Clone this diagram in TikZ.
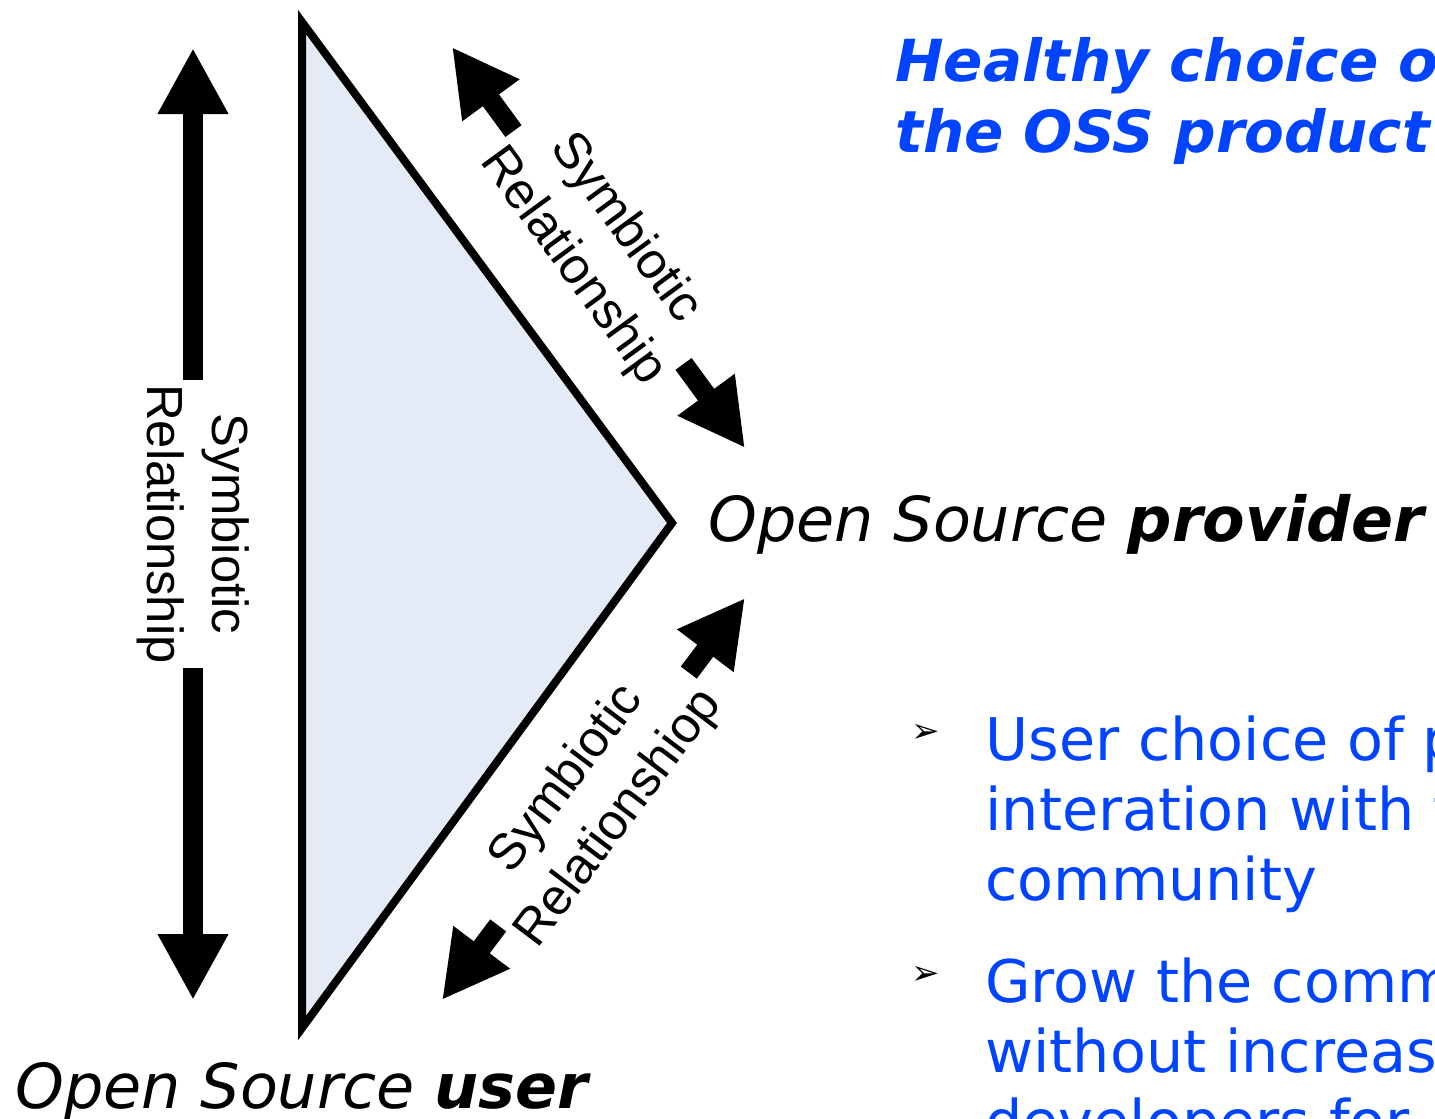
\documentclass[tikz,border=0pt]{standalone}
\usepackage{fontspec}
\setmainfont{DejaVu Sans}
\newfontfamily\labelfont{Liberation Sans}
\usepackage{tikz}
\usetikzlibrary{arrows.meta}
\definecolor{ossblue}{RGB}{0,68,255}
\definecolor{wedgefill}{RGB}{228,235,246}
\tikzstyle{rel arrow}=[line width=10pt,-{Triangle[length=33pt,width=33pt]}]
\tikzstyle{rel label}=[font=\labelfont\fontsize{25.4}{32.5}\selectfont,align=center,inner sep=2pt]
\tikzstyle{role label}=[anchor=base west,inner sep=0pt,font=\itshape\fontsize{31}{36}\selectfont]
\tikzstyle{blue text}=[anchor=base west,inner sep=0pt,align=left,text=ossblue]
\tikzstyle{bullet mark}=[inner sep=0pt,text=black,font=\fontsize{17}{17}\selectfont]
\newcommand{\relnode}[3][]{
  \node [rel label, #1] (#2) {#3}
}

\begin{document}
\begin{tikzpicture}[x=0.5pt,y=-0.5pt]
        \clip (0,0) rectangle (1435,1119);
        % the wedge
        \coordinate (apex) at (302,22);
        \coordinate (vertex) at (672,523);
        \coordinate (foot) at (302,1028);
        \draw[line width=4pt,line join=miter,fill=wedgefill] (apex) -- (vertex) -- (foot) -- cycle;

        % arrow tips
        \coordinate (ltop) at (193,48);
        \coordinate (lbot) at (193,1000);
        \coordinate (utop) at (452,47);
        \coordinate (ubot) at (745,448);
        \coordinate (dtop) at (745,598);
        \coordinate (dbot) at (442,1000);

        \relnode[rotate=-90,at={(193,524)}]{relleft}{Symbiotic\\Relationship};
        \relnode[rotate=-53.8,at={(598.5,247.5)}]{relup}{Symbiotic\\Relationship};
        \relnode[rotate=53,at={(593.5,799)}]{reldown}{Symbiotic\\Relationshiop};

      \draw[rel arrow] (relleft) -- (ltop);
            \draw[rel arrow] (relleft) -- (lbot);
                  \draw[rel arrow] (relup) -- (utop);
                        \draw[rel arrow] (relup) -- (ubot);
                              \draw[rel arrow] (reldown) -- (dtop);
                                    \draw[rel arrow] (reldown) -- (dbot);

        \node[role label] (provider) at (708,541) {Open Source \textbf{provider}};
        \node[role label] (user) at (15,1108) {Open Source \textbf{user}};

        % base anchor sits on the last line
\node[blue text,font=\bfseries\itshape\fontsize{29}{35.5}\selectfont] (title) at (895,152) {Healthy choice o\\the OSS product};

\node[bullet mark] (mark1) at (926,733) {➢};
\node[blue text,font=\fontsize{29.4}{35}\selectfont] (point1) at (985,900) {User choice of p\\interation with t\\community};
\node[bullet mark] (mark2) at (926,975) {➢};
\node[blue text,font=\fontsize{29.4}{35}\selectfont] (point2) at (985,1142) {Grow the comm\\without increas\\developers for};
      \end{tikzpicture}
\end{document}
